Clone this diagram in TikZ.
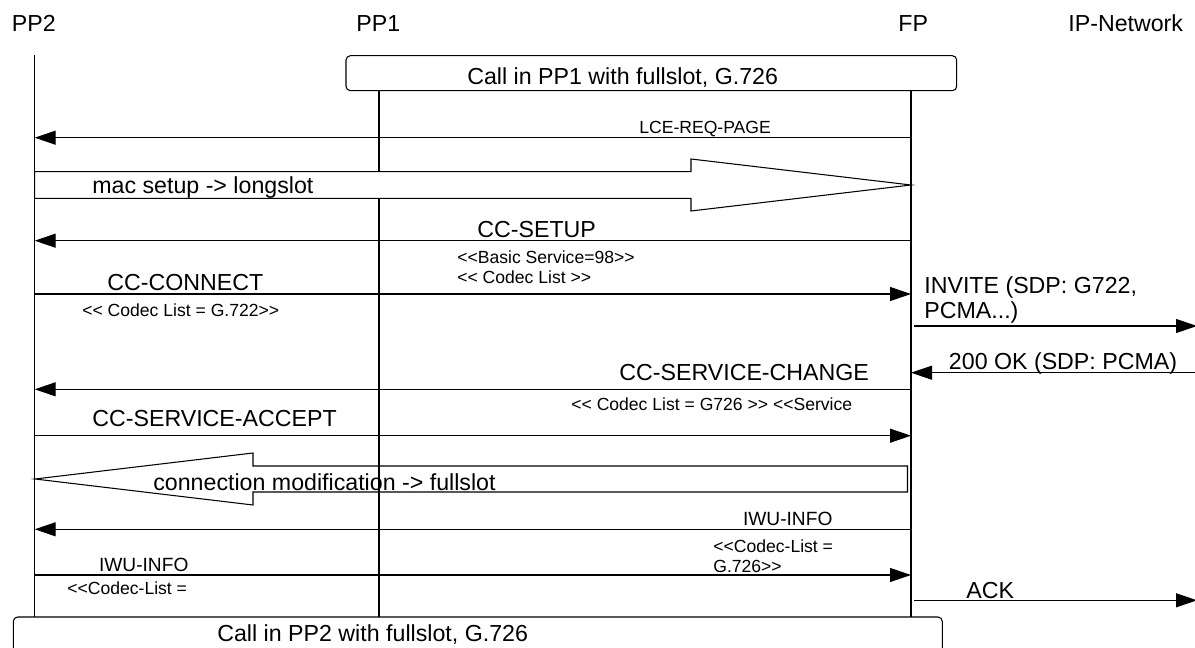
\documentclass[tikz,border=0pt]{standalone}
\usepackage{fontspec}
\setmainfont{Liberation Sans}
\usetikzlibrary{arrows.meta}

\tikzset{
  life/.style={line width=0.6pt},
  msg/.style={line width=0.6pt, -{Triangle[length=4.2mm, width=2.8mm]}},
  lbl/.style={inner sep=0pt, anchor=base west, align=left, font=\fontsize{13.2}{14.2}\selectfont},
  sml/.style={inner sep=0pt, anchor=base west, align=left, font=\fontsize{10}{11.3}\selectfont},
  iwu/.style={inner sep=0pt, anchor=base west, font=\fontsize{10.9}{12}\selectfont},
  callbox/.style={draw, line width=0.6pt, rounded corners=2.5pt},
  fatarrow/.style={draw, line width=0.6pt, line join=miter},
}

\begin{document}
\begin{tikzpicture}[x=0.02cm, y=-0.02cm]
    \clip (0,0) rectangle (1195,648);
    \fill[white] (0,0) rectangle (1195,648);

    % Entities
    \node[lbl] (hpp2) at (11.5,32) {PP2};
    \node[lbl] (hpp1) at (356,32) {PP1};
    \node[lbl] (hfp) at (898,32) {FP};
    \node[lbl] (hip) at (1068,32) {IP-Network};

    % Lifeline ends
    \coordinate (pp2t) at (34.7,55);   \coordinate (pp2b) at (34.7,617);
    \coordinate (pp1t) at (379,90.7);  \coordinate (pp1b) at (379,617);
    \coordinate (fpt) at (911,90.7);   \coordinate (fpb) at (911,617);
    \coordinate (fpo) at (914,90.7);   \coordinate (ipt) at (1197,90.7);

    % Call in PP1 box
    \draw[callbox] (346,55.7) rectangle (956.7,90.7);
    \node[lbl] (call1) at (467,85) {Call in PP1 with fullslot, G.726};

    % Mac setup big arrow (covers PP1 lifeline)
    \draw[life] (pp2t) -- (pp2b);
    \draw[life] (pp1t) -- (pp1b);
    \draw[life] (fpt) -- (fpb);
    \filldraw[fatarrow, fill=white] (34.7,171.7) -- (691,171.7) -- (691,159) -- (911,185)
        -- (691,211) -- (691,198.3) -- (34.7,198.3) -- cycle;
    \node[lbl] (macsetup) at (92,194) {mac setup -> longslot};

    % Message levels
    \coordinate (ylce) at (0,137.7);
    \coordinate (ysetup) at (0,240.7);
    \coordinate (yconnect) at (0,294);
    \coordinate (yinvite) at (0,326);
    \coordinate (yok) at (0,372.7);
    \coordinate (ychange) at (0,389.3);
    \coordinate (yaccept) at (0,435.7);
    \coordinate (yiwua) at (0,529.3);
    \coordinate (yiwub) at (0,575);
    \coordinate (yack) at (0,600.3);

    \draw[msg] (fpt |- ylce) -- (pp2t |- ylce);
    \node[sml] (lce) at (639,133.3) {LCE-REQ-PAGE};

    \draw[msg] (fpt |- ysetup) -- (pp2t |- ysetup);
    \node[lbl] (setup) at (477,237) {CC-SETUP};
    \node[sml] (setupie) at (457,283) {<{}<Basic Service=98>{}>\\<{}< Codec List >{}>};

    \draw[msg] (pp2t |- yconnect) -- (fpt |- yconnect);
    \node[lbl] (connect) at (107,290) {CC-CONNECT};
    \node[sml] (connectie) at (82,316) {<{}< Codec List = G.722>{}>};

    \draw[msg] (fpo |- yinvite) -- (ipt |- yinvite);
    \node[lbl] (invite) at (924,318) {INVITE (SDP: G722,\\PCMA...)};

    \draw[msg] (ipt |- yok) -- (fpt |- yok);
    \node[lbl] (ok) at (948.6,369) {200 OK (SDP: PCMA)};

    \draw[msg] (fpt |- ychange) -- (pp2t |- ychange);
    \node[lbl] (change) at (619,380) {CC-SERVICE-CHANGE};
    \node[sml] (changeie) at (571,410) {<{}< Codec List = G726 >{}> <{}<Service};

    \draw[msg] (pp2t |- yaccept) -- (fpt |- yaccept);
    \node[lbl] (accept) at (92,426.7) {CC-SERVICE-ACCEPT};

    % Connection modification big arrow
    \draw[fatarrow] (907.5,466) -- (253,466) -- (253,453) -- (35,479) -- (253,505)
        -- (253,492) -- (907.5,492) -- cycle;
    \node[lbl] (connmod) at (153,490) {connection modification -> fullslot};

    \draw[msg] (fpt |- yiwua) -- (pp2t |- yiwua);
    \node[iwu] (iwua) at (742.7,525) {IWU-INFO};
    \node[sml] (iwuaie) at (713,572) {<{}<Codec-List =\\G.726>{}>};

    \draw[msg] (pp2t |- yiwub) -- (fpt |- yiwub);
    \node[iwu] (iwub) at (98.7,571.7) {IWU-INFO};
    \node[sml] (iwubie) at (67,594) {<{}<Codec-List =};

    \draw[msg] (fpo |- yack) -- (ipt |- yack);
    \node[lbl] (ack) at (966,598.3) {ACK};

    % Call in PP2 box
    \draw[callbox, fill=white] (13.3,617) rectangle (942.3,690);
    \node[lbl] (call2) at (217,641) {Call in PP2 with fullslot, G.726};
\end{tikzpicture}
\end{document}
